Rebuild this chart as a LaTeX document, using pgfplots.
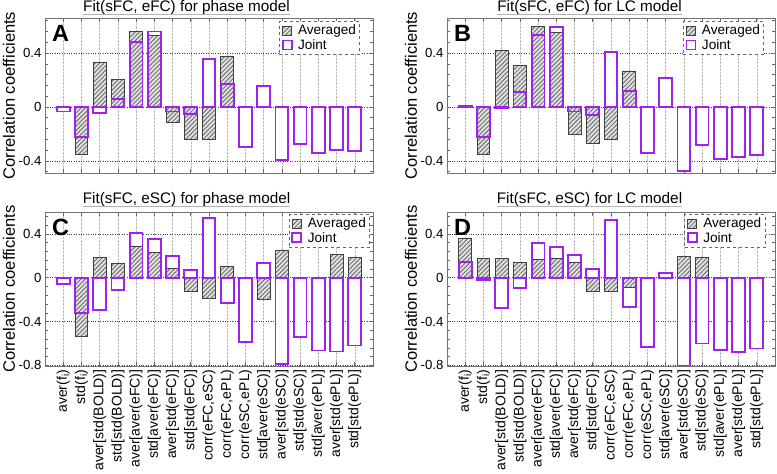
\documentclass[border=0pt]{standalone}
\usepackage{pgfplots}
\pgfplotsset{compat=1.18}
\usepackage{pgfplotstable}
\usepackage{fontspec}
\setmainfont{Liberation Sans}
\usetikzlibrary{patterns.meta}
\definecolor{jointc}{HTML}{A020F0}

\pgfplotstableread{
x avg joint
1 nan -0.034
2 -0.351 -0.22
3 0.328 -0.046
4 0.207 0.062
5 0.563 0.484
6 0.531 0.560
7 -0.117 -0.034
8 -0.244 -0.049
9 -0.239 0.358
10 0.375 0.173
11 nan -0.298
12 nan 0.156
13 nan -0.393
14 nan -0.278
15 nan -0.339
16 nan -0.317
17 nan -0.327
}\tabA

\pgfplotstableread{
x avg joint
1 nan 0.005
2 -0.354 -0.22
3 0.42 -0.01
4 0.309 0.111
5 0.600 0.536
6 0.550 0.590
7 -0.200 -0.034
8 -0.273 -0.061
9 -0.241 0.407
10 0.267 0.118
11 nan -0.341
12 nan 0.212
13 nan -0.476
14 nan -0.280
15 nan -0.383
16 nan -0.371
17 nan -0.359
}\tabB

\pgfplotstableread{
x avg joint
1 nan -0.055
2 -0.533 -0.321
3 0.186 -0.290
4 0.131 -0.109
5 0.290 0.412
6 0.235 0.357
7 0.082 0.198
8 -0.124 0.067
9 -0.185 0.547
10 0.100 -0.230
11 nan -0.588
12 -0.200 0.131
13 0.253 -0.788
14 nan -0.539
15 nan -0.664
16 0.214 -0.673
17 0.186 -0.618
}\tabC

\pgfplotstableread{
x avg joint
1 0.360 0.144
2 0.180 -0.024
3 0.177 -0.276
4 0.140 -0.094
5 0.171 0.318
6 0.180 0.284
7 0.140 0.208
8 -0.121 0.082
9 -0.121 0.531
10 -0.085 -0.270
11 nan -0.630
12 nan 0.040
13 0.195 -0.800
14 0.183 -0.600
15 nan -0.655
16 nan -0.679
17 nan -0.645
}\tabD

\pgfplotsset{
  panel/.style={
    scale only axis, width=328pt,
    xmin=0, xmax=18,
    xtick={1,...,17}, xticklabels={},
    minor ytick={-0.72,-0.64,-0.56,-0.48,-0.32,-0.24,-0.16,-0.08,0.08,0.16,0.24,0.32,0.48,0.56,0.64},
    ybar, bar width=0.7,
    xmajorgrids, ymajorgrids,
    x grid style={densely dotted, gray!55, line width=0.5pt},
    y grid style={dotted, black!75, line width=0.7pt},
    axis line style={black!55, line width=0.8pt},
    tick style={black!60, line width=0.6pt},
    major tick length=4pt, minor tick length=3pt,
    tick align=inside,
    yticklabel style={font=\fontsize{13.2}{15}\selectfont},
    xticklabel style={font=\fontsize{14}{16}\selectfont, rotate=90, anchor=east},
    legend cell align=left,
    legend style={draw=black!60, dashed, fill=white, font=\fontsize{13.6}{15}\selectfont,
      inner sep=2.2pt, nodes={inner sep=1.5pt, solid},
      /tikz/every odd column/.append style={column sep=4pt}},
  },
  panelAB/.style={panel, height=155pt, ymin=-0.49, ymax=0.66,
    ytick={-0.4,0,0.4}, yticklabels={-0.4,0,0.4}},
  panelCD/.style={panel, height=154pt, ymin=-0.805, ymax=0.6,
    ytick={-0.8,-0.4,0,0.4}, yticklabels={-0.8,-0.4,0,0.4},
    xticklabels={{aver(f\textsubscript{i})},{std(f\textsubscript{i})},{aver[std(BOLD)]},{std[std(BOLD)]},{aver[aver(eFC)]},{std[aver(eFC)]},{aver[std(eFC)]},{std[std(eFC)]},{corr(eFC,eSC)},{corr(eFC,ePL)},{corr(eSC,ePL)},{std[aver(eSC)]},{aver[std(eSC)]},{std[std(eSC)]},{std[aver(ePL)]},{aver[std(ePL)]},{std[std(ePL)]}}},
  whitebar/.style={fill=white, draw=none, bar shift=0pt, forget plot},
  avgbar/.style={bar shift=0pt, fill=gray!22, draw=black!75, line width=0.8pt,
    postaction={pattern={Lines[angle=45,distance=3.1pt,line width=1pt]}, pattern color=black!55},
    legend image code/.code={\draw[##1,solid] (0pt,-4.5pt) rectangle (9pt,4.5pt);}},
  jointbar/.style={bar shift=0pt, fill=none, draw=jointc, line width=1.9pt,
    legend image code/.code={\draw[##1,solid] (0pt,-4.5pt) rectangle (9pt,4.5pt);}},
}
\tikzset{letter/.style={anchor=north west, inner sep=0pt, font=\bfseries\fontsize{23.5}{24}\selectfont}}

\newcommand{\ttl}{\fontsize{15.3}{18}\selectfont}
\newcommand{\ylab}{\fontsize{16.5}{18}\selectfont}

\begin{document}
\begin{tikzpicture}
\path[use as bounding box] (0pt,0pt) rectangle (777pt,474pt);

% Panel A
\begin{axis}[panelAB, at={(45pt,301pt)}, anchor=south west,
  legend style={at={(0.96,0.98)}, anchor=north east}]
\addplot[whitebar] table[x=x,y=joint]{\tabA};
\addplot[avgbar] table[x=x,y=avg]{\tabA};
\addplot[jointbar] table[x=x,y=joint]{\tabA};
\legend{Averaged,Joint}
\node[letter] at (rel axis cs:0.021,0.955) {A};
\end{axis}

% Panel B
\begin{axis}[panelAB, at={(447pt,301pt)}, anchor=south west,
  legend style={at={(0.966,0.98)}, anchor=north east}]
\addplot[whitebar] table[x=x,y=joint]{\tabB};
\addplot[avgbar] table[x=x,y=avg]{\tabB};
\addplot[jointbar] table[x=x,y=joint]{\tabB};
\legend{Averaged,Joint}
\node[letter] at (rel axis cs:0.021,0.955) {B};
\end{axis}

% Panel C
\begin{axis}[panelCD, at={(45pt,108pt)}, anchor=south west,
  legend style={at={(0.99,0.987)}, anchor=north east}]
\addplot[whitebar] table[x=x,y=joint]{\tabC};
\addplot[avgbar] table[x=x,y=avg]{\tabC};
\addplot[jointbar] table[x=x,y=joint]{\tabC};
\legend{Averaged,Joint}
\node[letter] at (rel axis cs:0.021,0.955) {C};
\end{axis}

% Panel D
\begin{axis}[panelCD, at={(447pt,108pt)}, anchor=south west,
  legend style={at={(0.97,0.987)}, anchor=north east}]
\addplot[whitebar] table[x=x,y=joint]{\tabD};
\addplot[avgbar] table[x=x,y=avg]{\tabD};
\addplot[jointbar] table[x=x,y=joint]{\tabD};
\legend{Averaged,Joint}
\node[letter] at (rel axis cs:0.021,0.955) {D};
\end{axis}

% titles
\node[anchor=base, inner sep=0pt, font=\ttl] (tA) at (186.5pt,462.3pt) {Fit(sFC, eFC) for phase model};
\draw[gray!60, line width=0.6pt] ([yshift=-2.4pt]tA.base west) -- ([yshift=-2.4pt]tA.base east);
\node[anchor=base, inner sep=0pt, font=\ttl] (tB) at (589.5pt,462.3pt) {Fit(sFC, eFC) for LC model};
\draw[gray!60, line width=0.6pt] ([yshift=-2.4pt]tB.base west) -- ([yshift=-2.4pt]tB.base east);
\node[anchor=base, inner sep=0pt, font=\ttl] (tC) at (186.5pt,270.3pt) {Fit(sFC, eSC) for phase model};
\draw[gray!60, line width=0.6pt] ([yshift=-2.4pt]tC.base west) -- ([yshift=-2.4pt]tC.base east);
\node[anchor=base, inner sep=0pt, font=\ttl] (tD) at (589.5pt,270.3pt) {Fit(sFC, eSC) for LC model};
\draw[gray!60, line width=0.6pt] ([yshift=-2.4pt]tD.base west) -- ([yshift=-2.4pt]tD.base east);

% y labels
\node[rotate=90, font=\ylab, inner sep=0pt] at (9pt,378.5pt) {Correlation coefficients};
\node[rotate=90, font=\ylab, inner sep=0pt] at (411pt,378.5pt) {Correlation coefficients};
\node[rotate=90, font=\ylab, inner sep=0pt] at (9pt,185pt) {Correlation coefficients};
\node[rotate=90, font=\ylab, inner sep=0pt] at (411pt,185pt) {Correlation coefficients};
\end{tikzpicture}
\end{document}
